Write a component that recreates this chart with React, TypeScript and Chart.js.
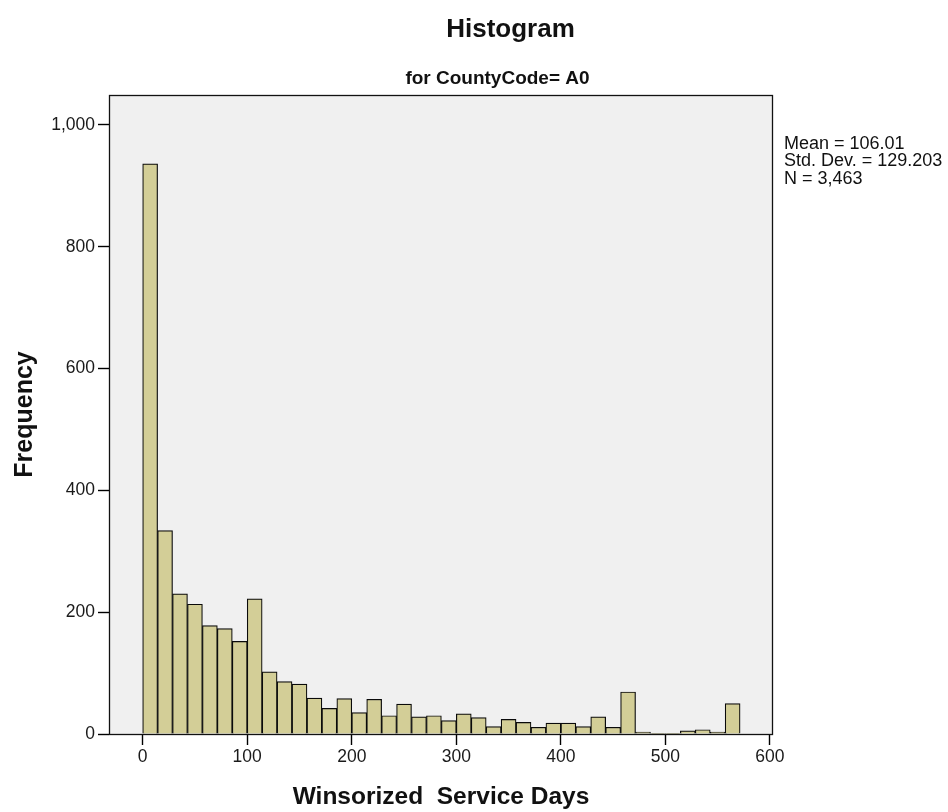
import React, { useEffect, useRef } from "react";
import { Chart, registerables } from "chart.js";

Chart.register(...registerables);

// ---- data ----
const TITLE = "Histogram";
const SUBTITLE = "for CountyCode= A0";
const X_TITLE = "Winsorized  Service Days";
const Y_TITLE = "Frequency";
const STATS = ["Mean = 106.01", "Std. Dev. = 129.203", "N = 3,463"];

const BIN_WIDTH = 100 / 7;
const COUNTS = [
  936, 334, 230, 213, 178, 173, 152, 222, 102, 86,
  82, 59, 42, 58, 35, 57, 30, 49, 28, 30,
  22, 33, 27, 12, 24, 19, 11, 18, 18, 12,
  28, 11, 69, 3, 1, 1, 5, 7, 3, 50,
];
const X_TICKS = [0, 100, 200, 300, 400, 500, 600];
const Y_TICKS = [0, 200, 400, 600, 800, 1000];
const X_MIN = -32.2;
const X_MAX = 602.9;
const Y_MIN = 0;
const Y_MAX = 1049;

const FONT = "'Liberation Sans', Arial, Helvetica, sans-serif";

const decorPlugin = {
  id: "spssDecor",
  beforeDraw(chart: any) {
    const { ctx, chartArea: a } = chart;
    ctx.save();
    ctx.fillStyle = "#ffffff";
    ctx.fillRect(0, 0, chart.width, chart.height);
    ctx.fillStyle = "#f0f0f0";
    ctx.fillRect(a.left, a.top, a.right - a.left, a.bottom - a.top);
    ctx.restore();
  },
  afterDatasetsDraw(chart: any) {
    const { ctx, chartArea: a } = chart;
    ctx.save();
    ctx.strokeStyle = "#111";
    ctx.lineWidth = 1.3;
    ctx.strokeRect(a.left + 0.5, a.top + 0.5, a.right - a.left - 1, a.bottom - a.top);
    ctx.restore();
  },
  afterDraw(chart: any) {
    const { ctx } = chart;
    ctx.save();
    ctx.fillStyle = "#111";
    ctx.textAlign = "center";
    ctx.textBaseline = "alphabetic";
    ctx.font = `bold 26px ${FONT}`;
    ctx.fillText(TITLE, 510.5, 37);
    ctx.font = `bold 19px ${FONT}`;
    ctx.fillText(SUBTITLE, 497.5, 84);
    ctx.textAlign = "left";
    ctx.font = `18px ${FONT}`;
    STATS.forEach((s, i) => ctx.fillText(s, 784, 148.5 + i * 17.5));
    ctx.restore();
  },
};

export default function App() {
  const ref = useRef<HTMLCanvasElement | null>(null);

  useEffect(() => {
    if (!ref.current) return;
    const data = COUNTS.map((c, i) => ({ x: (i + 0.5) * BIN_WIDTH, y: c }));
    const chart = new Chart(ref.current, {
      type: "bar",
      data: {
        datasets: [
          {
            data,
            backgroundColor: "#d3ce97",
            borderColor: "#0a0a0a",
            borderWidth: 1.2,
            barPercentage: 1,
            categoryPercentage: 1,
          } as any,
        ],
      },
      plugins: [decorPlugin],
      options: {
        responsive: false,
        animation: false,
        devicePixelRatio: 1,
        layout: { padding: { left: 0, top: 95, right: 175, bottom: 0 } },
        plugins: {
          legend: { display: false },
          tooltip: { enabled: false },
          title: { display: false },
        },
        scales: {
          x: {
            type: "linear",
            min: X_MIN,
            max: X_MAX,
            offset: false,
            afterBuildTicks: (axis: any) => {
              axis.ticks = X_TICKS.map((v) => ({ value: v }));
            },
            afterFit: (axis: any) => {
              axis.height = 78;
            },
            grid: {
              offset: false,
              drawOnChartArea: false,
              drawTicks: true,
              tickLength: 11,
              tickColor: "#000",
              tickWidth: 1.4,
            },
            border: { display: false },
            ticks: {
              color: "#1a1a1a",
              font: { family: FONT, size: 17.5 },
              padding: 2,
              maxRotation: 0,
              autoSkip: false,
            },
            title: {
              display: true,
              text: X_TITLE,
              color: "#111",
              font: { family: FONT, size: 24.5, weight: "bold" },
              padding: { top: 0, bottom: 0 },
            },
          },
          y: {
            type: "linear",
            min: Y_MIN,
            max: Y_MAX,
            afterBuildTicks: (axis: any) => {
              axis.ticks = Y_TICKS.map((v) => ({ value: v }));
            },
            afterFit: (axis: any) => {
              axis.width = 109;
            },
            grid: {
              drawOnChartArea: false,
              drawTicks: true,
              tickLength: 11,
              tickColor: "#000",
              tickWidth: 1.4,
            },
            border: { display: false },
            ticks: {
              color: "#1a1a1a",
              font: { family: FONT, size: 17.5 },
              padding: 3,
              autoSkip: false,
              callback: (v: any) => Number(v).toLocaleString("en-US"),
            },
            title: {
              display: true,
              text: Y_TITLE,
              color: "#111",
              font: { family: FONT, size: 25, weight: "bold" },
              padding: { top: 10, bottom: 0 },
            },
          },
        },
      } as any,
    });
    return () => chart.destroy();
  }, []);

  return (
    <div style={{ position: "absolute", left: 0, top: 0, width: 948, height: 812 }}>
      <canvas ref={ref} width={948} height={812} style={{ display: "block" }} />
    </div>
  );
}
